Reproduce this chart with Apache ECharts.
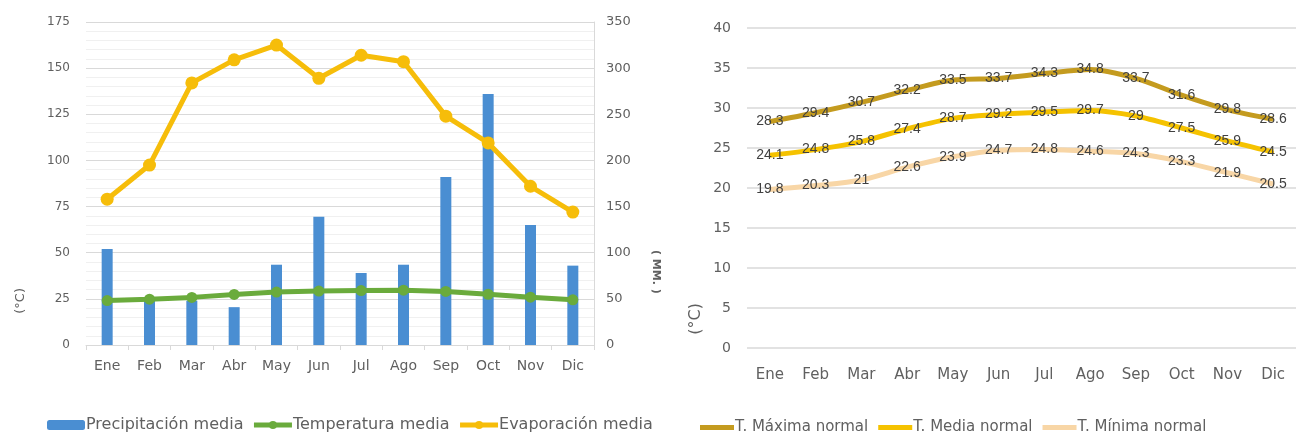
<!DOCTYPE html>
<html>
<head>
<meta charset="utf-8">
<script src="https://cdn.jsdelivr.net/npm/echarts@6/dist/echarts.min.js"></script>
<style>
html,body{margin:0;padding:0;background:#fff;}
#main{width:1300px;height:440px;}
</style>
</head>
<body>
<div id="main"></div>
<script>
var meses = ['Ene','Feb','Mar','Abr','May','Jun','Jul','Ago','Sep','Oct','Nov','Dic'];

// grafico izquierdo
var precipitacion = [104, 51, 48, 41, 87, 139, 78, 87, 182, 272, 130, 86];   // mm
var temperatura = [24.1, 24.8, 25.8, 27.4, 28.7, 29.2, 29.5, 29.7, 29, 27.5, 25.9, 24.5]; // °C
var evaporacion = [158, 195, 284, 309, 325, 289, 314, 307, 248, 219, 172, 144]; // mm

// grafico derecho
var tMaxima = [28.3, 29.4, 30.7, 32.2, 33.5, 33.7, 34.3, 34.8, 33.7, 31.6, 29.8, 28.6];
var tMedia = [24.1, 24.8, 25.8, 27.4, 28.7, 29.2, 29.5, 29.7, 29, 27.5, 25.9, 24.5];
var tMinima = [19.8, 20.3, 21, 22.6, 23.9, 24.7, 24.8, 24.6, 24.3, 23.3, 21.9, 20.5];

var fuente = 'DejaVu Sans';
var gris = '#606060';

var chart = echarts.init(document.getElementById('main'));

function etiquetas() {
	return { show: true, position: 'inside', fontFamily: 'Liberation Sans', fontSize: 14, color: '#404040' };
}

var option = {
	animation: false,
	textStyle: { fontFamily: fuente },
	grid: [
		{ left: 86, right: 706, top: 22, bottom: 95 },
		{ left: 747, right: 4, top: 28, bottom: 92 }
	],
	legend: [
		{
			left: 42, top: 412,
			itemWidth: 38, itemHeight: 10, itemGap: 8,
			lineStyle: { width: 5 },
			textStyle: { fontFamily: fuente, fontSize: 16, color: gris, padding: [0, 0, 0, -4] },
			data: ['Precipitación media', 'Temperatura media', 'Evaporación media']
		},
		{
			left: 695, top: 415,
			itemWidth: 34, itemHeight: 5, itemGap: 10,
			textStyle: { fontFamily: fuente, fontSize: 15, color: gris, padding: [0, 0, 0, -4] },
			data: [
				{ name: 'T. Máxima normal', icon: 'rect' },
				{ name: 'T. Media normal', icon: 'rect' },
				{ name: 'T. Mínima normal', icon: 'rect' }
			]
		}
	],
	graphic: [
		{ type: 'text', left: 14, top: 288, rotation: Math.PI / 2,
		  style: { text: '(°C)', font: '13px ' + fuente, fill: gris } },
		{ type: 'text', left: 650, top: 250, rotation: -Math.PI / 2,
		  style: { text: '( MM. )', font: 'bold 11px ' + fuente, fill: gris } },
		{ type: 'text', left: 688, top: 303, rotation: Math.PI / 2,
		  style: { text: '(°C)', font: '16px ' + fuente, fill: gris } }
	],
	xAxis: [
		{
			type: 'category', gridIndex: 0, data: meses,
			axisLine: { lineStyle: { color: '#d9d9d9' } },
			axisTick: { show: true, lineStyle: { color: '#d9d9d9' } },
			axisLabel: { color: gris, fontSize: 14, margin: 14 }
		},
		{
			type: 'category', gridIndex: 1, data: meses,
			axisLine: { show: false },
			axisTick: { show: false },
			axisLabel: { color: gris, fontSize: 15, margin: 20 }
		}
	],
	yAxis: [
		{
			type: 'value', gridIndex: 0, min: 0, max: 175, interval: 25,
			axisLine: { show: false }, axisTick: { show: false },
			axisLabel: { color: gris, fontSize: 12, margin: 16 },
			splitLine: { lineStyle: { color: '#d9d9d9' } },
			minorTick: { show: false, splitNumber: 5 },
			minorSplitLine: { show: true, lineStyle: { color: '#f0f0f0' } }
		},
		{
			type: 'value', gridIndex: 0, min: 0, max: 350, interval: 50, position: 'right',
			axisLine: { show: true, lineStyle: { color: '#d9d9d9' } }, axisTick: { show: false },
			axisLabel: { color: gris, fontSize: 13, margin: 12 },
			splitLine: { show: false }
		},
		{
			type: 'value', gridIndex: 1, min: 0, max: 40, interval: 5,
			axisLine: { show: false }, axisTick: { show: false },
			axisLabel: { color: gris, fontSize: 14, margin: 16 },
			splitLine: { lineStyle: { color: '#d9d9d9', width: 1.5 } }
		}
	],
	series: [
		{
			name: 'Precipitación media', type: 'bar', xAxisIndex: 0, yAxisIndex: 1,
			data: precipitacion, barWidth: 11,
			itemStyle: { color: '#4a8ed2' }
		},
		{
			name: 'Temperatura media', type: 'line', xAxisIndex: 0, yAxisIndex: 0,
			data: temperatura, symbol: 'circle', symbolSize: 11,
			lineStyle: { width: 5, color: '#6aab3c' }, itemStyle: { color: '#6aab3c' }
		},
		{
			name: 'Evaporación media', type: 'line', xAxisIndex: 0, yAxisIndex: 1,
			data: evaporacion, symbol: 'circle', symbolSize: 13,
			lineStyle: { width: 5, color: '#f6bd0a' }, itemStyle: { color: '#f6bd0a' }
		},
		{
			name: 'T. Máxima normal', type: 'line', xAxisIndex: 1, yAxisIndex: 2,
			data: tMaxima, smooth: 0.3, symbol: 'circle', symbolSize: 2,
			lineStyle: { width: 5, color: '#c49b1f' }, itemStyle: { color: '#c49b1f' },
			label: etiquetas()
		},
		{
			name: 'T. Media normal', type: 'line', xAxisIndex: 1, yAxisIndex: 2,
			data: tMedia, smooth: 0.3, symbol: 'circle', symbolSize: 2,
			lineStyle: { width: 5, color: '#f5c200' }, itemStyle: { color: '#f5c200' },
			label: etiquetas()
		},
		{
			name: 'T. Mínima normal', type: 'line', xAxisIndex: 1, yAxisIndex: 2,
			data: tMinima, smooth: 0.3, symbol: 'circle', symbolSize: 2,
			lineStyle: { width: 5, color: '#f8d6a6' }, itemStyle: { color: '#f8d6a6' },
			label: etiquetas()
		}
	]
};

chart.setOption(option);
</script>
</body>
</html>
